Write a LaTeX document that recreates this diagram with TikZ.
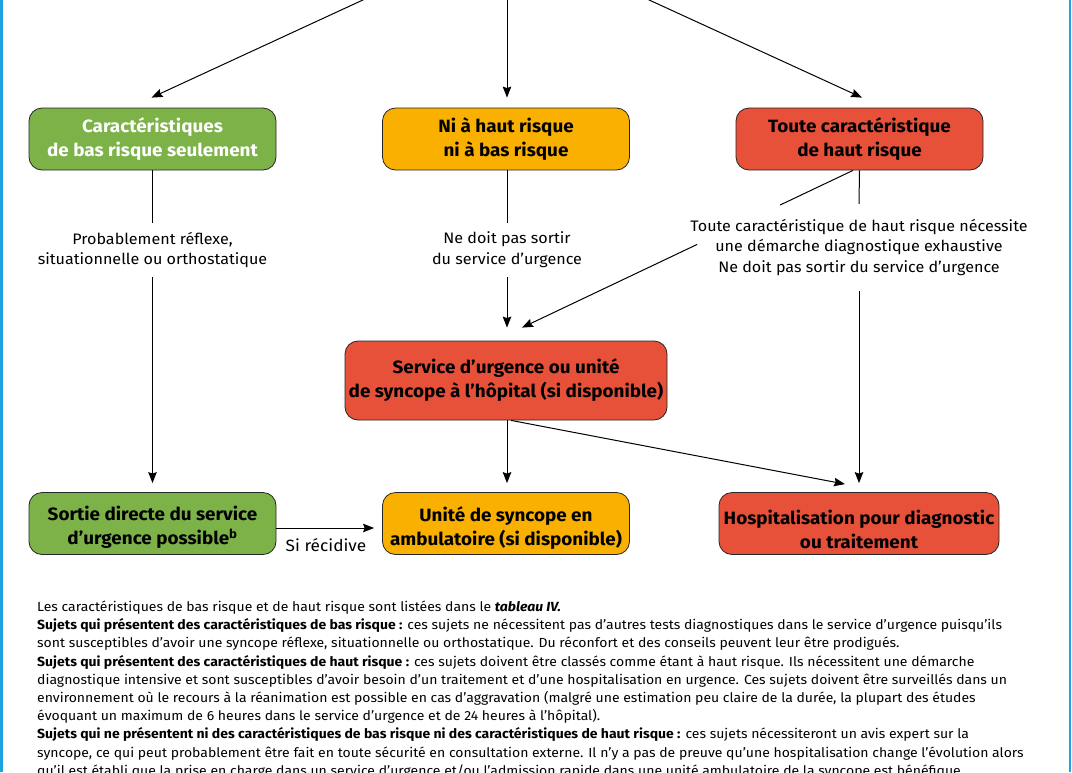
\documentclass[tikz,border=0pt]{standalone}
\usepackage{fontspec}
\setmainfont{Fira Sans}[FakeStretch=1.06]
\usetikzlibrary{arrows.meta,calc}
\definecolor{bgreen}{RGB}{124,178,72}
\definecolor{borange}{RGB}{249,176,0}
\definecolor{bred}{RGB}{231,80,57}
\definecolor{bblue}{RGB}{30,162,226}
\begin{document}
\begin{tikzpicture}[x=1pt,y=-1pt,
  boxtext/.style={align=center, inner sep=0pt,
    font=\fontsize{17.8}{24}\selectfont\bfseries},
  box/.style={boxtext, draw=black!85, line width=0.8pt, rounded corners=13pt,
    minimum width=247pt, minimum height=62pt},
  gbox/.style={box, fill=bgreen},
  obox/.style={box, fill=borange},
  rbox/.style={box, fill=bred},
  lbl/.style={align=center, inner xsep=2pt, inner ysep=9pt,
    font=\fontsize{15.2}{20.7}\selectfont},
  para/.style={anchor=base west, inner sep=0pt,
    font=\fontsize{13.2}{18}\selectfont},
  conn/.style={line width=1pt, draw=black},
  arr/.style={conn, -{Stealth[length=11pt,width=8.5pt,inset=1.5pt]}}
]
\useasboundingbox (0,0) rectangle (1072,772);
\clip (0,0) rectangle (1072,772);
\fill[white] (0,0) rectangle (1072,772);
\fill[bblue] (0,0) rectangle (2.6,772);
\fill[bblue] (1068.6,0) rectangle (1071.2,772);

% boxes
\node[gbox, text=white] (b1) at (152.5,139) {Caractéristiques\\de bas risque seulement};
\node[obox] (b2) at (506,139) {Ni à haut risque\\ni à bas risque};
\node[rbox] (b3) at (859.5,139) {Toute caractéristique\\de haut risque};
\node[rbox, minimum width=322pt, minimum height=79pt] (b4) at (506,380.5) {Service d’urgence ou unité\\de syncope à l’hôpital (si disponible)};
\node[gbox] (b5) at (152.5,523.5) {};
\node[boxtext] (b5t) at ($(b5.center)+(0,4)$) {Sortie directe du service\\d’urgence possible\textsuperscript{b}};
\node[obox] (b6) at (506,523.5) {};
\node[boxtext] (b6t) at ($(b6.center)+(0,5)$) {Unité de syncope en\\ambulatoire (si disponible)};
\node[rbox, minimum width=280pt] (b7) at (859,523.5) {};
\node[boxtext] (b7t) at ($(b7.center)+(0,6)$) {Hospitalisation pour diagnostic\\ou traitement};

% labels
\node[lbl] (l1) at (152.5,250) {Probablement réflexe,\\situationnelle ou orthostatique};
\node[lbl] (l2) at (507,250) {Ne doit pas sortir\\du service d’urgence};
\node[lbl, inner ysep=15pt] (l3) at (859,247.5) {Toute caractéristique de haut risque nécessite\\une démarche diagnostique exhaustive\\Ne doit pas sortir du service d’urgence};
\node[lbl, inner ysep=1pt, font=\fontsize{16.3}{20}\selectfont] (l4) at (326,545.5) {Si récidive};

% top incoming connectors
\coordinate (t1) at (365,-1);
\coordinate (t2) at (507,-1);
\coordinate (t3) at (647,-1);
\draw[arr] (t1) -- ($(b1.north)+(-1,-10)$);
\draw[arr] (t2) -- ($(b2.north)+(1,-10)$);
\draw[arr] (t3) -- ($(b3.north)+(2.5,-10)$);

% left column
\draw[conn] (b1.south) -- (l1.north);
\draw[arr, shorten >=9pt] (l1.south) -- (b5.north);
% middle column
\draw[conn] ($(b2.south)+(1,0)$) -- (l2.north);
\draw[arr, shorten >=13pt] (l2.south) -- ($(b4.north)+(1,0)$);
% right column
\draw[conn] (b3.south) -- (l3.north);
\draw[arr, shorten >=9pt] (l3.south) -- (b7.north);
% diagonal from b3 to b4
\coordinate (d0) at ($(b3.south)+(-6.5,0)$);
\coordinate (d1) at ($(b4.north)+(16,-13)$);
\draw[conn] (d0) -- ($(d0)!0.22!(d1)$);
\draw[arr] ($(d0)!0.471!(d1)$) -- (d1);
% from b4
\draw[arr, shorten >=9pt] ($(b4.south)+(1,0)$) -- ($(b6.north)+(1,0)$);
\draw[arr] ($(b4.south)+(5,0)$) -- ($(b7.north)+(-14,-8)$);
% b5 to b6
\draw[arr, shorten >=8pt] ($(b5.east)+(0,4.5)$) -- ($(b6.west)+(0,4.5)$);

% paragraph
\node[para] (p1) at (37,611.5) {Les caractéristiques de bas risque et de haut risque sont listées dans le \textbf{\textit{tableau IV.}}};
\node[para] (p2) at (37,629.7) {\textbf{Sujets qui présentent des caractéristiques de bas risque :} ces sujets ne nécessitent pas d’autres tests diagnostiques dans le service d’urgence puisqu’ils};
\node[para] (p3) at (37,647.9) {sont susceptibles d’avoir une syncope réflexe, situationnelle ou orthostatique. Du réconfort et des conseils peuvent leur être prodigués.};
\node[para] (p4) at (37,666.1) {\textbf{Sujets qui présentent des caractéristiques de haut risque :} ces sujets doivent être classés comme étant à haut risque. Ils nécessitent une démarche};
\node[para] (p5) at (37,684.3) {diagnostique intensive et sont susceptibles d’avoir besoin d’un traitement et d’une hospitalisation en urgence. Ces sujets doivent être surveillés dans un};
\node[para] (p6) at (37,702.5) {environnement où le recours à la réanimation est possible en cas d’aggravation (malgré une estimation peu claire de la durée, la plupart des études};
\node[para] (p7) at (37,720.7) {évoquant un maximum de 6 heures dans le service d’urgence et de 24 heures à l’hôpital).};
\node[para] (p8) at (37,738.9) {\textbf{Sujets qui ne présentent ni des caractéristiques de bas risque ni des caractéristiques de haut risque :} ces sujets nécessiteront un avis expert sur la};
\node[para] (p9) at (37,757.1) {syncope, ce qui peut probablement être fait en toute sécurité en consultation externe. Il n’y a pas de preuve qu’une hospitalisation change l’évolution alors};
\node[para] (p10) at (37,775.3) {qu’il est établi que la prise en charge dans un service d’urgence et/ou l’admission rapide dans une unité ambulatoire de la syncope est bénéfique.};
\end{tikzpicture}
\end{document}
